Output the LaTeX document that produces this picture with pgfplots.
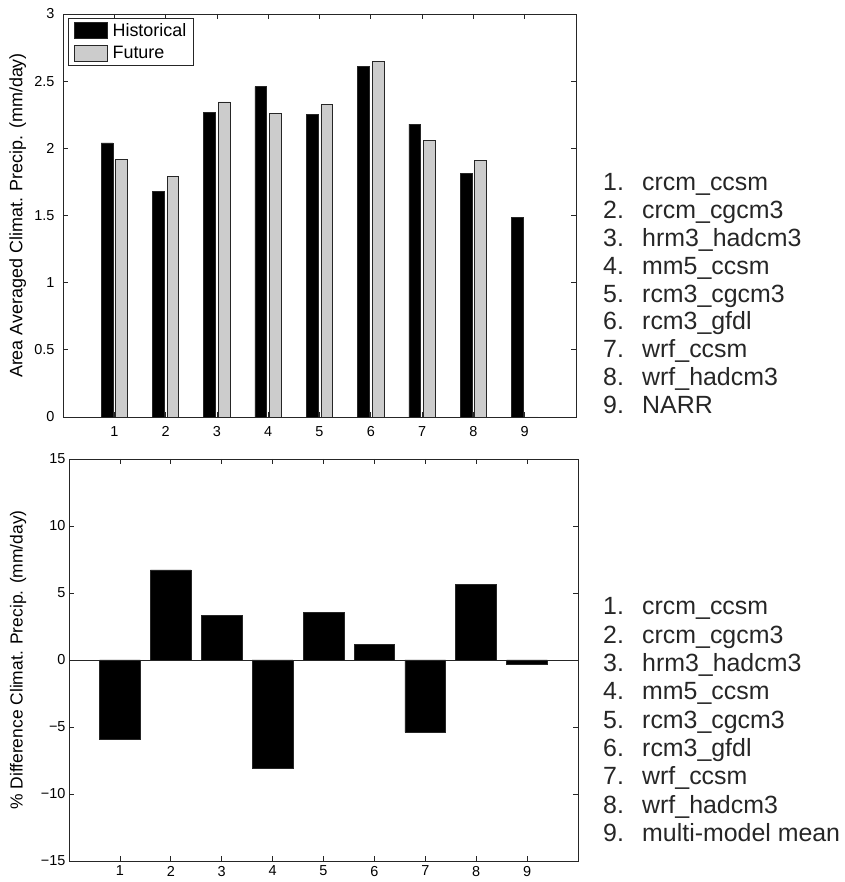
\documentclass[border=0pt]{standalone}
\usepackage{fontspec}
\setmainfont{Liberation Sans}
\usepackage{pgfplots}
\pgfplotsset{compat=1.18}
\definecolor{futgray}{gray}{0.8}
\definecolor{edge}{gray}{0.15}

\pgfplotsset{
  mlab/.style={
    scale only axis, anchor=south west,
    xmin=0, xmax=10, xtick={1,...,9},
    axis line style={edge, line width=0.8bp},
    major tick style={edge, line width=0.8bp},
    major tick length=5bp,
    tick label style={font=\fontsize{14.5}{16}\selectfont},
    label style={font=\fontsize{17.5}{19}\selectfont},
    /pgf/number format/assume math mode=true,
  }
}

\begin{document}
\begin{tikzpicture}
\useasboundingbox (0bp,0bp) rectangle (845bp,882bp);

% upper panel: climatology
\begin{axis}[mlab,
  at={(63bp,465bp)}, width=513bp, height=403bp,
  ymin=0, ymax=3, ytick={0,0.5,1,1.5,2,2.5,3},
  yticklabel style={xshift=-5bp},
  xticklabel style={yshift=-6bp},
  ylabel={Area Averaged Climat. Precip. (mm/day)},
  ylabel style={at={(axis description cs:-0.088,0.5)}, anchor=center, font=\fontsize{18}{20}\selectfont},
  legend style={at={(axis description cs:0.0097,0.99)}, anchor=north west,
    draw=edge, line width=0.8bp, font=\fontsize{18}{20}\selectfont,
    inner xsep=6bp, inner ysep=3.5bp, row sep=5.5bp,
    nodes={inner sep=1.5bp}},
  legend cell align=left,
  legend image code/.code={\draw[#1, line width=0.7bp] (0bp,-8bp) rectangle (33bp,8bp);},
  /tikz/every odd column/.append style={column sep=3bp},
]
\addplot[ybar, bar width=0.23, bar shift=-0.143, fill=black, draw=edge, line width=0.7bp]
  coordinates {(1,2.04) (2,1.68) (3,2.27) (4,2.46) (5,2.25) (6,2.61) (7,2.18) (8,1.81) (9,1.487)};
\addlegendentry{Historical}
\addplot[ybar, bar width=0.23, bar shift=0.143, fill=futgray, draw=edge, line width=0.7bp]
  coordinates {(1,1.92) (2,1.79) (3,2.345) (4,2.26) (5,2.325) (6,2.645) (7,2.06) (8,1.91) (9,0)};
\addlegendentry{Future}
\end{axis}

% lower panel: percent difference
\begin{axis}[mlab,
  at={(69bp,21bp)}, width=509bp, height=402bp,
  ymin=-15, ymax=15, ytick={-15,-10,-5,0,5,10,15},
  yticklabels={−15,−10,−5,0,5,10,15},
  xticklabel style={yshift=-1.5bp},
  ylabel={\% Difference Climat. Precip. (mm/day)},
  ylabel style={at={(axis description cs:-0.1,0.5)}, anchor=center},
]
\addplot[ybar, bar width=0.8, bar shift=0, fill=black, draw=edge, line width=0.7bp]
  coordinates {(1,-5.92) (2,6.72) (3,3.31) (4,-8.08) (5,3.53) (6,1.17) (7,-5.40) (8,5.65) (9,-0.30)};
\addplot[edge, line width=0.8bp] coordinates {(0,0) (10,0)};
\end{axis}

% model lists
\foreach \name [count=\i from 0] in {crcm\_ccsm,crcm\_cgcm3,hrm3\_hadcm3,mm5\_ccsm,rcm3\_cgcm3,rcm3\_gfdl,wrf\_ccsm,wrf\_hadcm3,NARR} {
  \pgfmathsetmacro{\yy}{882-190.5-27.9*\i}
  \pgfmathtruncatemacro{\k}{\i+1}
  \node[anchor=base west, inner sep=0, font=\fontsize{25}{27}\selectfont, text=black!85] at (603bp,\yy bp) {\k.};
  \node[anchor=base west, inner sep=0, font=\fontsize{25}{27}\selectfont, text=black!85] at (642bp,\yy bp) {\name};
}
\foreach \name [count=\i from 0] in {crcm\_ccsm,crcm\_cgcm3,hrm3\_hadcm3,mm5\_ccsm,rcm3\_cgcm3,rcm3\_gfdl,wrf\_ccsm,wrf\_hadcm3,multi-model mean} {
  \pgfmathsetmacro{\yy}{882-615-28.3*\i}
  \pgfmathtruncatemacro{\k}{\i+1}
  \node[anchor=base west, inner sep=0, font=\fontsize{25}{27}\selectfont, text=black!85] at (603bp,\yy bp) {\k.};
  \node[anchor=base west, inner sep=0, font=\fontsize{25}{27}\selectfont, text=black!85] at (642bp,\yy bp) {\name};
}
\end{tikzpicture}
\end{document}
